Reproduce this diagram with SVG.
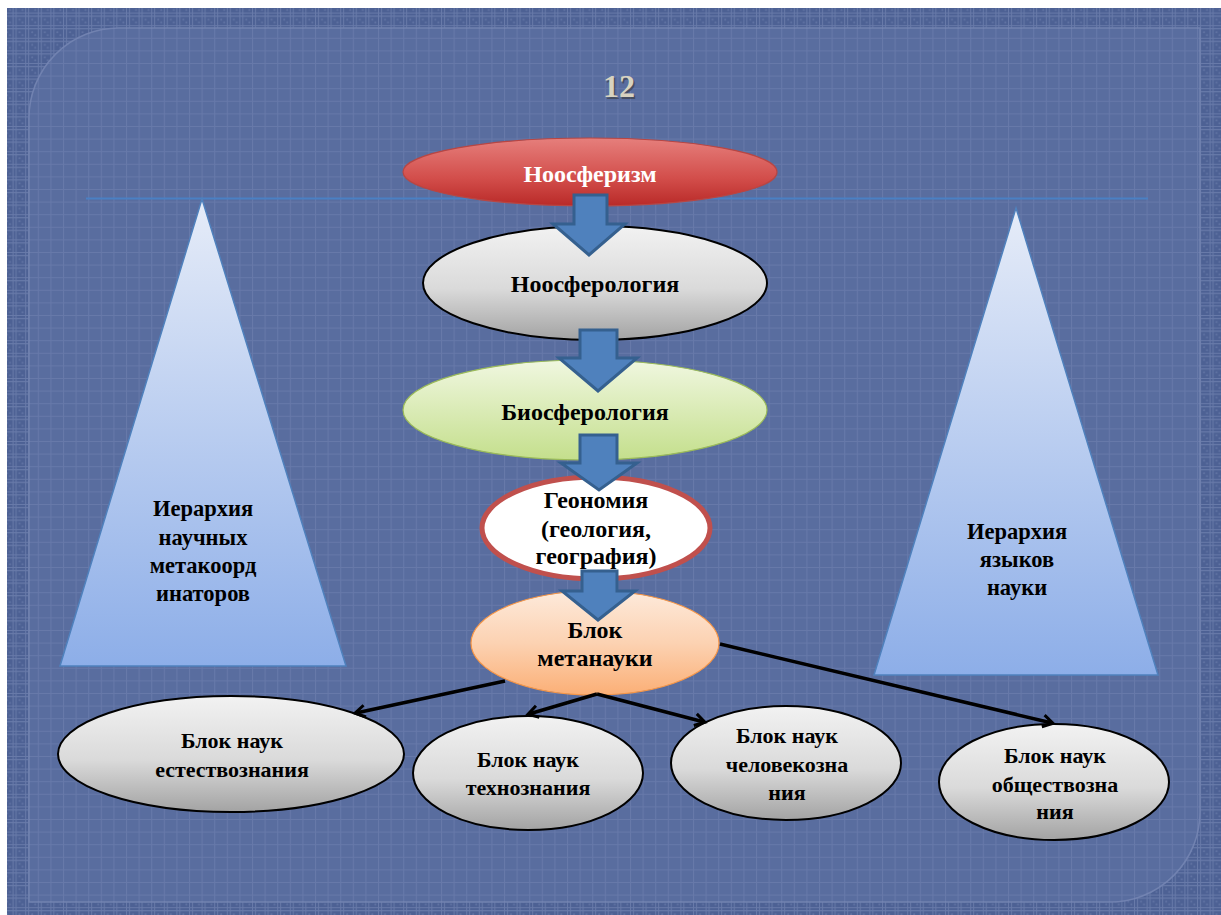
<svg xmlns="http://www.w3.org/2000/svg" width="1221" height="915" viewBox="0 0 1221 915">
<defs>
<style>
.t{font-family:"Liberation Serif","Times New Roman",serif;font-weight:bold;text-anchor:middle;fill:#000;font-size:22px}
.t22{font-size:24px}
.tt{font-size:22.5px}
.gray{stroke:#000;stroke-width:2}
.conn{stroke:#000;stroke-width:3.5;fill:none;marker-end:url(#ah)}
.barrow{fill:#4f81bd;stroke:#35608f;stroke-width:3;stroke-linejoin:miter}
</style>
<pattern id="gridIn" width="12.6" height="12.6" patternUnits="userSpaceOnUse">
<path d="M0,0.5 H12.6 M0.5,0 V12.6" stroke="#8090bc" stroke-opacity="0.35" stroke-width="1" fill="none"/>
</pattern>
<pattern id="gridOut" width="12.6" height="12.6" patternUnits="userSpaceOnUse">
<rect width="12.6" height="12.6" fill="#4d6194"/>
<path d="M0,0.5 H12.6 M0.5,0 V12.6 M0,3.5 H12.6 M3.5,0 V12.6" stroke="#8a9ac4" stroke-opacity="0.45" stroke-width="1" fill="none"/>
<circle cx="7" cy="7" r="1" fill="#8090bc" fill-opacity="0.4"/>
<circle cx="10" cy="10" r="1" fill="#8090bc" fill-opacity="0.4"/>
</pattern>
<linearGradient id="gRed" x1="0" y1="0" x2="0" y2="1">
<stop offset="0" stop-color="#e67f7c"/>
<stop offset="0.6" stop-color="#d24d4a"/>
<stop offset="1" stop-color="#b92a28"/>
</linearGradient>
<linearGradient id="gGray" x1="0" y1="0" x2="0" y2="1">
<stop offset="0" stop-color="#f2f2f2"/>
<stop offset="0.55" stop-color="#dadada"/>
<stop offset="1" stop-color="#a3a3a3"/>
</linearGradient>
<linearGradient id="gGreen" x1="0" y1="0" x2="0" y2="1">
<stop offset="0" stop-color="#f0f7e0"/>
<stop offset="1" stop-color="#c4df8c"/>
</linearGradient>
<linearGradient id="gOrange" x1="0" y1="0" x2="0" y2="1">
<stop offset="0" stop-color="#fdeadb"/>
<stop offset="0.5" stop-color="#fcd2b2"/>
<stop offset="1" stop-color="#fbaf76"/>
</linearGradient>
<linearGradient id="gTri" x1="0" y1="0" x2="0" y2="1">
<stop offset="0" stop-color="#e6ecf8"/>
<stop offset="1" stop-color="#8daee8"/>
</linearGradient>
<marker id="ah" markerWidth="16" markerHeight="16" refX="11" refY="7" orient="auto" markerUnits="userSpaceOnUse" viewBox="0 0 16 14">
<path d="M2,1 L12,7 L2,13" fill="none" stroke="#000" stroke-width="3"/>
</marker>
</defs>

<!-- background -->
<rect x="0" y="0" width="1221" height="915" fill="#ffffff"/>
<rect x="7" y="8" width="1214" height="907" fill="url(#gridOut)"/>
<path d="M119,28 H1200 V812 A90,90 0 0 1 1110,902 H29 V118 A90,90 0 0 1 119,28 Z" fill="#596d9f" stroke="#7182b0" stroke-width="1.5"/>
<path d="M119,28 H1200 V812 A90,90 0 0 1 1110,902 H29 V118 A90,90 0 0 1 119,28 Z" fill="url(#gridIn)"/>
<line x1="86" y1="198.5" x2="1148" y2="198.5" stroke="#4a80c4" stroke-width="2"/>
<text x="619" y="97" font-family="Liberation Serif, serif" font-weight="bold" font-size="32" text-anchor="middle" fill="#3a3a3a" opacity="0.6" transform="translate(1.5,1.5)">12</text>
<text x="619" y="97" font-family="Liberation Serif, serif" font-weight="bold" font-size="32" text-anchor="middle" fill="#d8d3c0">12</text>

<!-- triangles -->
<g id="tri-left">
<polygon points="202,199 346,666 60,666" fill="url(#gTri)" stroke="#4f81bd" stroke-width="1.5"/>
<text class="t tt" x="203" y="516">Иерархия</text>
<text class="t tt" x="203" y="545">научных</text>
<text class="t tt" x="203" y="573">метакоорд</text>
<text class="t tt" x="203" y="601">инаторов</text>
</g>
<g id="tri-right">
<polygon points="1016,208 1158,675 874,675" fill="url(#gTri)" stroke="#4f81bd" stroke-width="1.5"/>
<text class="t tt" x="1017" y="539">Иерархия</text>
<text class="t tt" x="1017" y="567">языков</text>
<text class="t tt" x="1017" y="595">науки</text>
</g>

<!-- nodes -->
<g id="n-noosferizm">
<ellipse cx="590" cy="172" rx="187" ry="34" fill="url(#gRed)" stroke="#b84643" stroke-width="1.2"/>
<text class="t t22" x="590" y="182" style="fill:#fff">Ноосферизм</text>
</g>
<g id="n-noosferologia">
<ellipse cx="595" cy="283" rx="172" ry="57" fill="url(#gGray)" class="gray"/>
<text class="t t22" x="595" y="292">Ноосферология</text>
</g>
<g id="n-biosferologia">
<ellipse cx="585" cy="410" rx="182" ry="50" fill="url(#gGreen)" stroke="#9bbb59" stroke-width="1.2"/>
<text class="t t22" x="585" y="420">Биосферология</text>
</g>
<g id="n-geonomia">
<ellipse cx="596" cy="528" rx="114" ry="51" fill="#ffffff" stroke="#c0504d" stroke-width="5"/>
</g>
<g id="n-metanauka">
<ellipse cx="595" cy="643" rx="124" ry="52" fill="url(#gOrange)" stroke="#f79646" stroke-width="1.2"/>
</g>
<g id="n-estestv">
<ellipse cx="231" cy="754" rx="173" ry="58" fill="url(#gGray)" class="gray"/>
<text class="t" x="232" y="748">Блок наук</text>
<text class="t" x="232" y="777">естествознания</text>
</g>
<g id="n-tehno">
<ellipse cx="528" cy="773" rx="115" ry="57" fill="url(#gGray)" class="gray"/>
<text class="t" x="528" y="767">Блок наук</text>
<text class="t" x="528" y="795">технознания</text>
</g>
<g id="n-chelovek">
<ellipse cx="786" cy="763" rx="115" ry="57" fill="url(#gGray)" class="gray"/>
<text class="t" x="787" y="743">Блок наук</text>
<text class="t" x="787" y="772">человекозна</text>
<text class="t" x="787" y="800">ния</text>
</g>
<g id="n-obshestvo">
<ellipse cx="1054" cy="782" rx="115" ry="58" fill="url(#gGray)" class="gray"/>
<text class="t" x="1055" y="763">Блок наук</text>
<text class="t" x="1055" y="792">обществозна</text>
<text class="t" x="1055" y="819">ния</text>
</g>

<!-- connectors -->
<g id="connectors">
<polygon class="barrow" points="574,195 607,195 607,224 625,224 589,255 553,224 574,224"/>
<polygon class="barrow" points="580,330 617,330 617,358 637,358 598,391 559,358 580,358"/>
<polygon class="barrow" points="580,435 617,435 617,463 637,463 599,490 561,463 580,463"/>
<polygon class="barrow" points="582,571 617,571 617,591 635,591 598,620 562,591 582,591"/>
<line class="conn" x1="505" y1="681" x2="356" y2="713"/>
<line class="conn" x1="597" y1="694" x2="529" y2="714"/>
<line class="conn" x1="597" y1="694" x2="704" y2="722"/>
<line class="conn" x1="720" y1="644" x2="1052" y2="723"/>
</g>

<!-- texts above arrows -->
<g id="n-geonomia-text">
<text class="t t22" x="596" y="508">Геономия</text>
<text class="t t22" x="596" y="537">(геология,</text>
<text class="t t22" x="596" y="564">география)</text>
</g>
<g id="n-metanauka-text">
<text class="t t22" x="595" y="638">Блок</text>
<text class="t t22" x="595" y="666">метанауки</text>
</g>
</svg>
